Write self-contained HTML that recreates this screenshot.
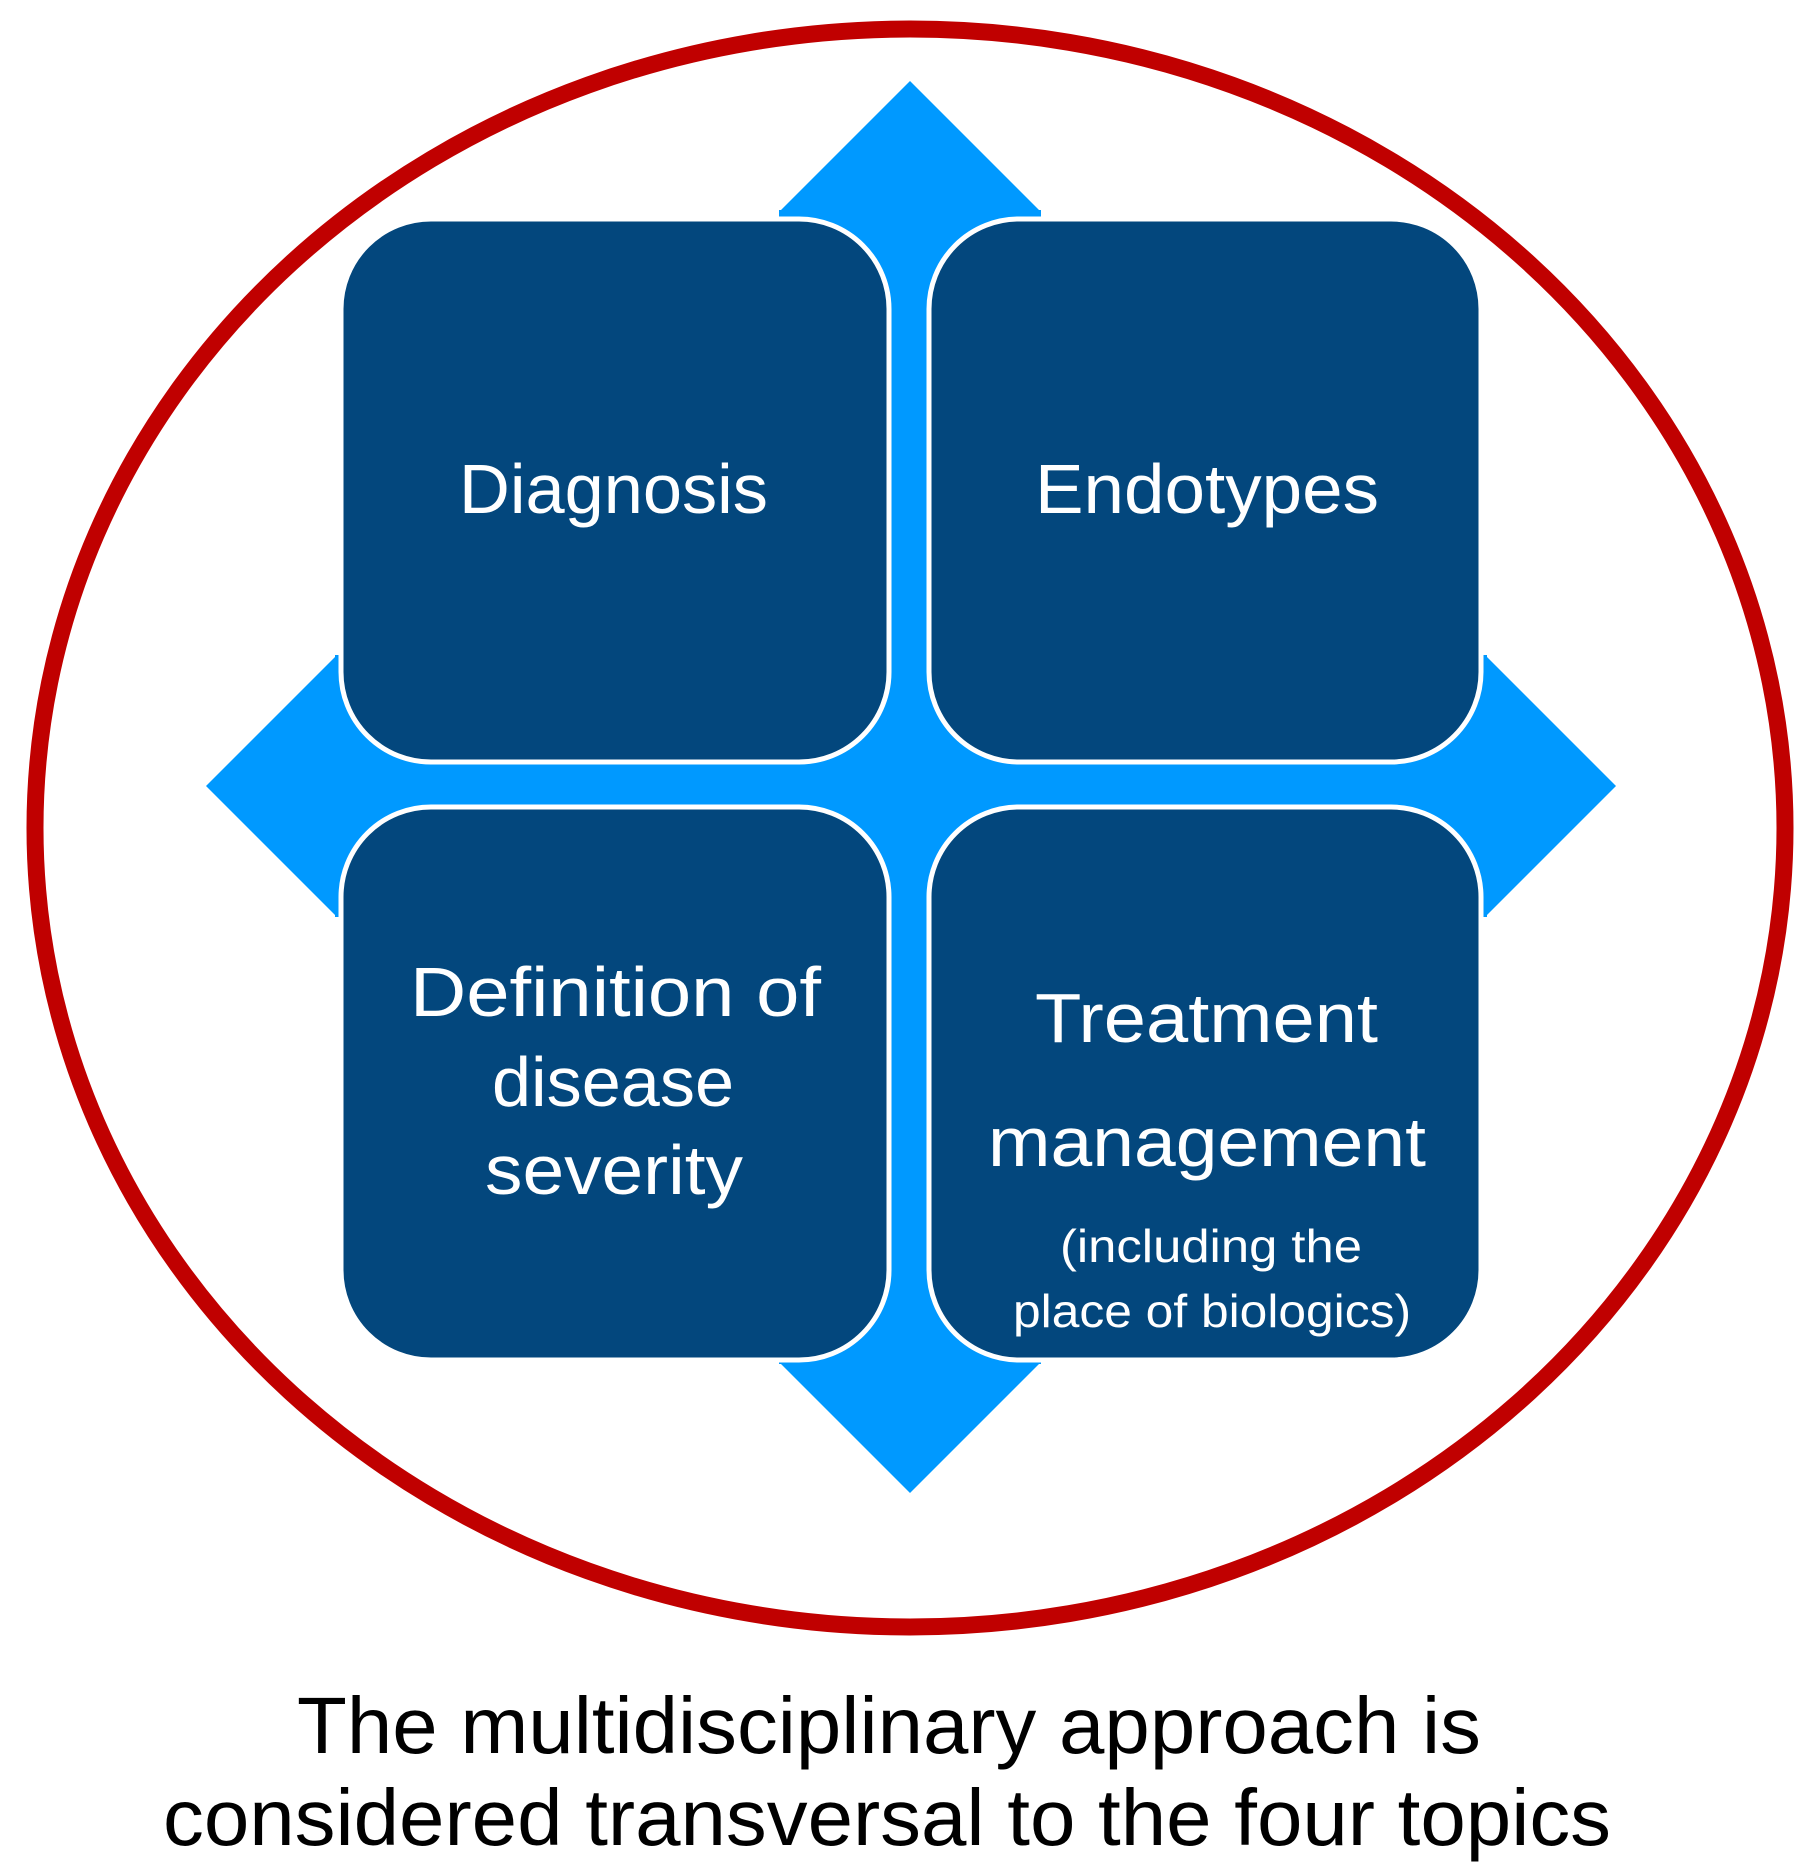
<!DOCTYPE html>
<html><head><meta charset="utf-8"><style>html,body{margin:0;padding:0;background:#fff}svg{display:block}</style></head>
<body>
<svg width="1808" height="1875" viewBox="0 0 1808 1875" xmlns="http://www.w3.org/2000/svg">
<rect width="1808" height="1875" fill="#fff"/>
<ellipse cx="910" cy="828" rx="875" ry="799" fill="none" stroke="#C00000" stroke-width="17"/>
<g fill="#0099FF">
<polygon points="910,81 1041,212 779,212"/>
<polygon points="910,1493 1041,1362 779,1362"/>
<polygon points="206,786 337,655 337,917"/>
<polygon points="1616,786 1485,655 1485,917"/>
<rect x="779" y="210" width="262" height="1154"/>
<rect x="335" y="655" width="1152" height="262"/>
</g>
<g fill="#03477D" stroke="#fff" stroke-width="5">
<rect x="341" y="219" width="548" height="543" rx="90" ry="90"/>
<rect x="929" y="219" width="552" height="543" rx="90" ry="90"/>
<rect x="341" y="807" width="548" height="553" rx="90" ry="90"/>
<rect x="929" y="807" width="552" height="553" rx="90" ry="90"/>
</g>
<g fill="#fff" font-family="'Liberation Sans', 'DejaVu Sans', sans-serif" font-size="70">
<text x="459" y="513" textLength="309" lengthAdjust="spacingAndGlyphs">Diagnosis</text>
<text x="1035" y="513" textLength="344" lengthAdjust="spacingAndGlyphs">Endotypes</text>
<text x="410" y="1016" textLength="411" lengthAdjust="spacingAndGlyphs">Definition of</text>
<text x="492" y="1106" textLength="242" lengthAdjust="spacingAndGlyphs">disease</text>
<text x="485" y="1194" textLength="258" lengthAdjust="spacingAndGlyphs">severity</text>
<text x="1035" y="1042" textLength="343" lengthAdjust="spacingAndGlyphs">Treatment</text>
<text x="988" y="1166" textLength="438" lengthAdjust="spacingAndGlyphs">management</text>
<text x="1060" y="1262" font-size="46" textLength="302" lengthAdjust="spacingAndGlyphs">(including the</text>
<text x="1013" y="1327" font-size="46" textLength="398" lengthAdjust="spacingAndGlyphs">place of biologics)</text>
</g>
<g fill="#000" font-family="'Liberation Sans', Arial, sans-serif" font-size="80">
<text x="297" y="1753" textLength="1184" lengthAdjust="spacingAndGlyphs">The multidisciplinary approach is</text>
<text x="163" y="1845" textLength="1448" lengthAdjust="spacingAndGlyphs">considered transversal to the four topics</text>
</g>
</svg>
</body></html>
